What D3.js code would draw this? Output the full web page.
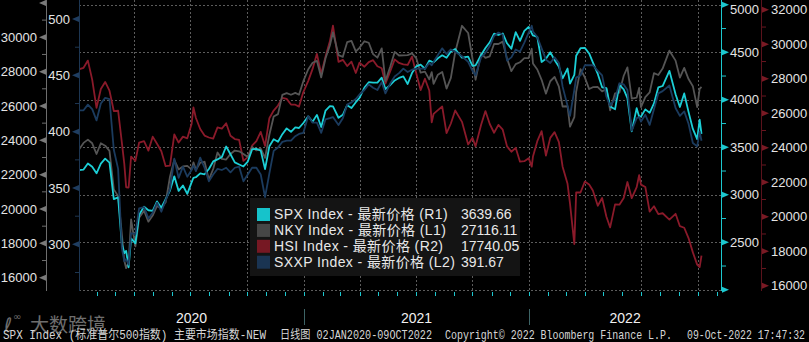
<!DOCTYPE html>
<html><head><meta charset="utf-8">
<script src="https://cdn.jsdelivr.net/npm/d3@7"></script>
<style>html,body{margin:0;padding:0;background:#000;}svg{display:block}</style>
</head><body><svg id="c" width="809" height="342"></svg>
<script>
// ---------------- DATA ----------------
const dates = [
"2020-01-02","2020-01-10","2020-01-17","2020-01-24","2020-01-31","2020-02-07","2020-02-14","2020-02-21","2020-02-28","2020-03-06",
"2020-03-12","2020-03-16","2020-03-19","2020-03-23","2020-03-27","2020-04-03","2020-04-09","2020-04-17","2020-04-24","2020-05-01",
"2020-05-08","2020-05-15","2020-05-22","2020-05-29","2020-06-05","2020-06-12","2020-06-19","2020-06-26","2020-07-03","2020-07-06",
"2020-07-10","2020-07-17","2020-07-24","2020-07-31","2020-08-07","2020-08-14","2020-08-21","2020-08-28","2020-09-04","2020-09-11",
"2020-09-18","2020-09-25","2020-10-02","2020-10-09","2020-10-16","2020-10-23","2020-10-30","2020-11-06","2020-11-13","2020-11-20",
"2020-11-27","2020-12-04","2020-12-11","2020-12-18","2020-12-24","2020-12-31",
"2021-01-08","2021-01-15","2021-01-22","2021-01-29","2021-02-05","2021-02-12","2021-02-17","2021-02-26","2021-03-05","2021-03-12",
"2021-03-19","2021-03-26","2021-04-01","2021-04-09","2021-04-16","2021-04-23","2021-04-30","2021-05-07","2021-05-13","2021-05-21",
"2021-05-28","2021-06-04","2021-06-11","2021-06-18","2021-06-25","2021-07-02","2021-07-09","2021-07-16","2021-07-23","2021-07-27",
"2021-07-30","2021-08-06","2021-08-13","2021-08-20","2021-08-27","2021-09-03","2021-09-14","2021-09-24","2021-10-01","2021-10-06",
"2021-10-15","2021-10-22","2021-10-29","2021-11-05","2021-11-12","2021-11-19","2021-11-26","2021-12-03","2021-12-10","2021-12-17",
"2021-12-24","2021-12-31",
"2022-01-05","2022-01-07","2022-01-14","2022-01-21","2022-01-28","2022-02-04","2022-02-11","2022-02-18","2022-02-24","2022-03-04",
"2022-03-08","2022-03-15","2022-03-18","2022-03-25","2022-04-01","2022-04-08","2022-04-14","2022-04-22","2022-04-29","2022-05-06",
"2022-05-12","2022-05-20","2022-05-27","2022-06-03","2022-06-09","2022-06-16","2022-06-24","2022-06-28","2022-07-01","2022-07-08",
"2022-07-15","2022-07-22","2022-07-29","2022-08-05","2022-08-16","2022-08-26","2022-09-02","2022-09-09","2022-09-16","2022-09-23",
"2022-09-30","2022-10-04","2022-10-07"];

const spx = [
3258,3265,3330,3295,3226,3328,3380,3338,2954,2972,
2481,2386,2409,2237,2541,2489,2790,2875,2837,2831,
2930,2864,2955,3044,3194,3041,3098,3009,3130,3179,
3185,3225,3216,3271,3351,3373,3397,3508,3427,3341,
3319,3298,3348,3477,3484,3465,3270,3510,3585,3558,
3638,3699,3663,3709,3703,3756,
3825,3768,3841,3714,3887,3934,3931,3811,3842,3943,
3913,3975,4020,4129,4185,4180,4181,4233,4113,4156,
4204,4230,4247,4166,4281,4352,4370,4327,4412,4402,
4395,4437,4468,4442,4509,4535,4443,4455,4357,4363,
4471,4545,4605,4697,4682,4698,4595,4538,4712,4620,
4725,4766,
4701,4677,4662,4398,4432,4500,4419,4349,4226,4329,
4170,4262,4463,4543,4546,4488,4393,4272,4132,4123,
3930,3901,4158,4109,4017,3667,3912,3821,3825,3899,
3863,3962,4130,4145,4305,4058,3924,4067,3873,3693,
3586,3791,3640];

const nky = [
23430,23850,24041,23827,23205,23828,23688,23387,21143,20750,
18560,17002,16553,16887,19389,17820,19498,19897,19262,19619,
20179,20037,20388,21878,22863,22305,22478,22512,22306,22714,
22290,22696,22751,21710,22329,23289,22920,22882,23205,23406,
23360,23205,23029,23620,23410,23516,22977,24325,25385,25527,
26644,26751,26652,26763,26656,27444,
28139,28519,28631,27663,28779,29520,30292,28966,28864,29717,
29792,29176,29388,29768,29683,29020,28813,29357,27448,28317,
29149,28941,28948,28964,29066,28783,27940,28003,27548,27970,
27283,27820,27977,27013,27641,29128,30670,30249,28771,27528,
29069,28804,28893,29612,29610,29746,28752,28030,28437,28546,
28782,28792,
29332,28479,28124,27522,26717,27440,27696,27122,25971,25985,
24791,25346,26827,28149,27666,26985,27093,27105,26848,27003,
25748,26739,26782,27761,28246,26431,26491,27049,25936,26517,
26788,27915,27802,28176,29222,28641,27650,28215,27568,27153,
25937,26992,27116];

const hsi = [
28544,28638,29056,27950,26313,27404,27816,27309,26130,26146,
24309,23064,21709,21696,23484,23236,24300,24380,23831,24644,
24230,23797,22930,22961,24770,24301,24644,24549,25373,26339,
25727,25089,24705,24595,24531,25183,25113,25422,24695,24503,
24455,23235,23459,24119,24387,24918,24107,25713,26157,26452,
26895,26836,26506,26498,26387,27231,
27879,28574,29448,28284,29289,30173,31085,28980,29099,28740,
28990,28336,28939,28699,28970,29079,28725,28611,27719,28458,
29125,28918,28842,28801,29288,28310,27344,28004,27322,25473,
25961,26179,26391,24849,25407,26163,25502,24192,24576,24080,
25330,26127,25377,24871,25328,25050,24081,23767,23996,23193,
23224,23398,
22907,23493,24383,24966,23550,24573,24906,24327,22902,21906,
20765,18415,21412,21404,22039,21872,21518,20638,21089,20001,
19380,20717,20697,21082,22014,21075,21719,22418,21860,21725,
20297,20610,20157,20202,19830,20170,19452,19362,18762,17933,
17223,17079,17740];

const sxxp = [
419,419,424,420,410,425,430,429,384,367,
297,285,287,282,310,309,332,333,323,328,
337,329,339,349,376,359,369,360,366,370,
365,377,368,356,362,367,366,368,364,368,
369,356,362,368,368,362,342,363,383,386,
391,392,392,396,398,399,
414,408,408,399,411,412,413,406,412,424,
426,429,433,437,442,439,437,444,434,443,
449,452,456,453,455,456,456,456,461,459,
462,468,474,469,473,471,467,462,454,450,
466,470,476,485,488,486,463,466,473,471,
479,488,
494,489,484,474,464,461,466,461,440,423,
414,437,448,450,459,459,459,454,450,431,
423,429,443,442,437,401,412,413,409,415,
406,420,434,436,441,421,414,418,407,390,
387,400,392];

const seriesNames = ["SPX Index","NKY Index","HSI Index","SXXP Index"];
const seriesAxis  = ["(R1)","(L1)","(R2)","(L2)"];
const lastValues  = ["3639.66","27116.11","17740.05","391.67"];
const l1Ticks = [16000,18000,20000,22000,24000,26000,28000,30000,32000];
const l2Ticks = [300,350,400,450,500];
const r1Ticks = [2000,2500,3000,3500,4000,4500,5000];
const r2Ticks = [16000,18000,20000,22000,24000,26000,28000,30000,32000];
const yearLabels = ["2020","2021","2022"];
const footerParts = ["SPX Index (标准普尔500指数) 主要市场指数-NEW","日线图 02JAN2020-09OCT2022","Copyright© 2022 Bloomberg Finance L.P.","09-Oct-2022 17:47:32"];

// ---------------- STYLE / LAYOUT ----------------
const W = 809, H = 342;
const PL = 79, PR = 721, PT = 0, PB = 291;
const colors = {spx:"#1ccfd6", nky:"#555555", hsi:"#8a1a2a", sxxp:"#1b3b5e"};
const swatch = ["#16c3cb","#464646","#761823","#1a3452"];
const FONT = "'Liberation Sans', Arial, 'Noto Sans CJK SC', sans-serif";

const svg = d3.select("#c");
svg.append("rect").attr("width",W).attr("height",H).attr("fill","#000");

const parse = d3.timeParse("%Y-%m-%d");
const D = dates.map(parse);
const x = d3.scaleTime().domain([new Date(2020,0,1), new Date(2022,10,7,14)]).range([78, PR]);
const yL1 = d3.scaleLinear().domain([15225, 32172]).range([PB, 0]);
const yL2 = d3.scaleLinear().domain([258.6, 516.9]).range([PB, 0]);
const yR1 = d3.scaleLinear().domain([1987, 5050.5]).range([PB, 0]);
const yR2 = d3.scaleLinear().domain([15693, 32569]).range([PB, 0]);

// grid
const grid = svg.append("g").attr("stroke","#5c5c5c").attr("stroke-width",1).attr("stroke-dasharray","2,2");
r1Ticks.forEach(v=>{
  const y = Math.round(yR1(v))+0.5;
  grid.append("line").attr("x1",PL).attr("x2",PR).attr("y1",y).attr("y2",y);
});
d3.timeMonth.every(3).range(new Date(2020,3,1), new Date(2022,10,1)).forEach(d=>{
  const xx = Math.round(x(d))+0.5;
  grid.append("line").attr("x1",xx).attr("x2",xx).attr("y1",PT).attr("y2",PB);
});

// lines
svg.append("clipPath").attr("id","clip").append("rect").attr("x",PL).attr("y",PT).attr("width",PR-PL).attr("height",PB-PT);
const lg = svg.append("g").attr("clip-path","url(#clip)").attr("fill","none").attr("stroke-width",1.8).attr("stroke-linejoin","round");
function draw(vals, sc, col){
  const ln = d3.line().x((d,i)=>x(D[i])).y(d=>sc(d));
  lg.append("path").datum(vals).attr("d",ln).attr("stroke",col);
}
draw(hsi, yR2, colors.hsi);
draw(nky, yL1, colors.nky);
draw(spx, yR1, colors.spx);
draw(sxxp, yL2, colors.sxxp);

// axes helpers
function labelY(y){ return Math.max(y, 9); }
const axG = svg.append("g").attr("font-family",FONT).attr("font-size",13).attr("fill","#e4e4e4");

// L1
axG.append("line").attr("x1",46.5).attr("x2",46.5).attr("y1",0).attr("y2",PB).attr("stroke","#6e6e6e");
d3.range(17000, 32000, 2000).forEach(v=>{ const y=yL1(v); axG.append("line").attr("x1",42).attr("x2",46).attr("y1",y).attr("y2",y).attr("stroke","#6e6e6e"); });
l1Ticks.forEach(v=>{
  const y=yL1(v);
  axG.append("path").attr("d",`M46,${y-3}L46,${y+3}L39,${y}Z`).attr("fill","#7a7a7a");
  if (v<32000) axG.append("text").attr("x",37).attr("y",labelY(y)).attr("dy","0.35em").attr("text-anchor","end").text(v);
});
// L2
axG.append("line").attr("x1",79.5).attr("x2",79.5).attr("y1",0).attr("y2",PB).attr("stroke","#1d3652");
d3.range(275, 525, 50).forEach(v=>{ const y=yL2(v); axG.append("line").attr("x1",75).attr("x2",79).attr("y1",y).attr("y2",y).attr("stroke","#1d3652"); });
l2Ticks.forEach(v=>{
  const y=yL2(v);
  axG.append("path").attr("d",`M79,${y-3}L79,${y+3}L72,${y}Z`).attr("fill","#1f3d60");
  axG.append("text").attr("x",70).attr("y",labelY(y)).attr("dy","0.35em").attr("text-anchor","end").text(v);
});
// R1
axG.append("line").attr("x1",721.5).attr("x2",721.5).attr("y1",0).attr("y2",PB).attr("stroke","#1cc8cf");
d3.range(2250, 5250, 500).forEach(v=>{ const y=yR1(v); axG.append("line").attr("x1",722).attr("x2",726).attr("y1",y).attr("y2",y).attr("stroke","#1cc8cf"); });
r1Ticks.forEach(v=>{
  const y=yR1(v);
  axG.append("path").attr("d",`M722,${y-3}L722,${y+3}L729,${y}Z`).attr("fill","#1cc8cf");
  if (v>2000) axG.append("text").attr("x",730).attr("y",labelY(y)).attr("dy","0.35em").text(v);
});
// R2
axG.append("line").attr("x1",761.5).attr("x2",761.5).attr("y1",0).attr("y2",PB).attr("stroke","#5a121b");
d3.range(17000, 33000, 2000).forEach(v=>{ const y=yR2(v); axG.append("line").attr("x1",762).attr("x2",766).attr("y1",y).attr("y2",y).attr("stroke","#6a1620"); });
r2Ticks.forEach(v=>{
  const y=yR2(v);
  axG.append("path").attr("d",`M762,${y-3}L762,${y+3}L769,${y}Z`).attr("fill","#7a1a24");
  axG.append("text").attr("x",771).attr("y",labelY(y)).attr("dy","0.35em").text(v);
});

// bottom month ticks
d3.timeMonth.range(new Date(2020,1,1), new Date(2022,10,2)).forEach(d=>{
  const xx = Math.round(x(d))+0.5;
  svg.append("line").attr("x1",xx).attr("x2",xx).attr("y1",PB+1).attr("y2",PB+5).attr("stroke","#1cc8cf");
});
// year separators and labels
const yStarts = [new Date(2020,0,1), new Date(2021,0,1), new Date(2022,0,1)];
[1,2].forEach(i=>{
  const xx = Math.round(x(yStarts[i]))+0.5;
  svg.append("line").attr("x1",xx).attr("x2",xx).attr("y1",309).attr("y2",325).attr("stroke","#3d6466");
});
yearLabels.forEach((t,i)=>{
  const x0 = i===0 ? PL : x(yStarts[i]);
  const x1 = i<2 ? x(yStarts[i+1]) : PR;
  svg.append("text").attr("x",(x0+x1)/2).attr("y",318).attr("dy","0.35em").attr("text-anchor","middle")
    .attr("font-family",FONT).attr("font-size",14).attr("fill","#f0f0f0").text(t);
});

// watermark
const wm = svg.append("g").attr("opacity",0.55).attr("fill","#c8c8c8");
wm.append("text").attr("x",4).attr("y",332).attr("font-family","'DejaVu Sans',sans-serif").attr("font-size",20).text("ℓ");
wm.append("text").attr("x",13).attr("y",320).attr("font-family","'DejaVu Sans',sans-serif").attr("font-size",10).text("∞");
wm.append("text").attr("x",30).attr("y",332).attr("font-family","'Noto Sans CJK SC',sans-serif").attr("font-size",19).text("大数跨境");

// footer (narrow font, stretched vertically)
const fx = [[3,263],[280,152],[445,227],[687,118]];
const foot = svg.append("g").attr("transform","translate(0,339) scale(1,1.25)");
footerParts.forEach((t,i)=>{
  foot.append("text").attr("x",fx[i][0]).attr("y",0).attr("font-family","'Liberation Mono','Noto Sans CJK SC',monospace")
    .attr("font-size",9.6).attr("fill","#d6d6d6").attr("textLength",fx[i][1]).attr("lengthAdjust","spacingAndGlyphs").text(t);
});

// legend
const leg = svg.append("g");
leg.append("rect").attr("x",250).attr("y",198).attr("width",270).attr("height",78).attr("fill","#141414");
seriesNames.forEach((n,i)=>{
  const cy = 214 + i*15.9;
  leg.append("rect").attr("x",257).attr("y",cy-6).attr("width",13).attr("height",13).attr("fill",swatch[i]);
  leg.append("text").attr("x",274).attr("y",cy).attr("dy","0.36em").attr("font-family",FONT).attr("font-size",14)
    .attr("letter-spacing",0.4).attr("fill","#e8e8e8").text(n+" - 最新价格 "+seriesAxis[i]);
  leg.append("text").attr("x",461).attr("y",cy).attr("dy","0.36em").attr("font-family",FONT).attr("font-size",14)
    .attr("fill","#e8e8e8").text(lastValues[i]);
});
</script></body></html>
